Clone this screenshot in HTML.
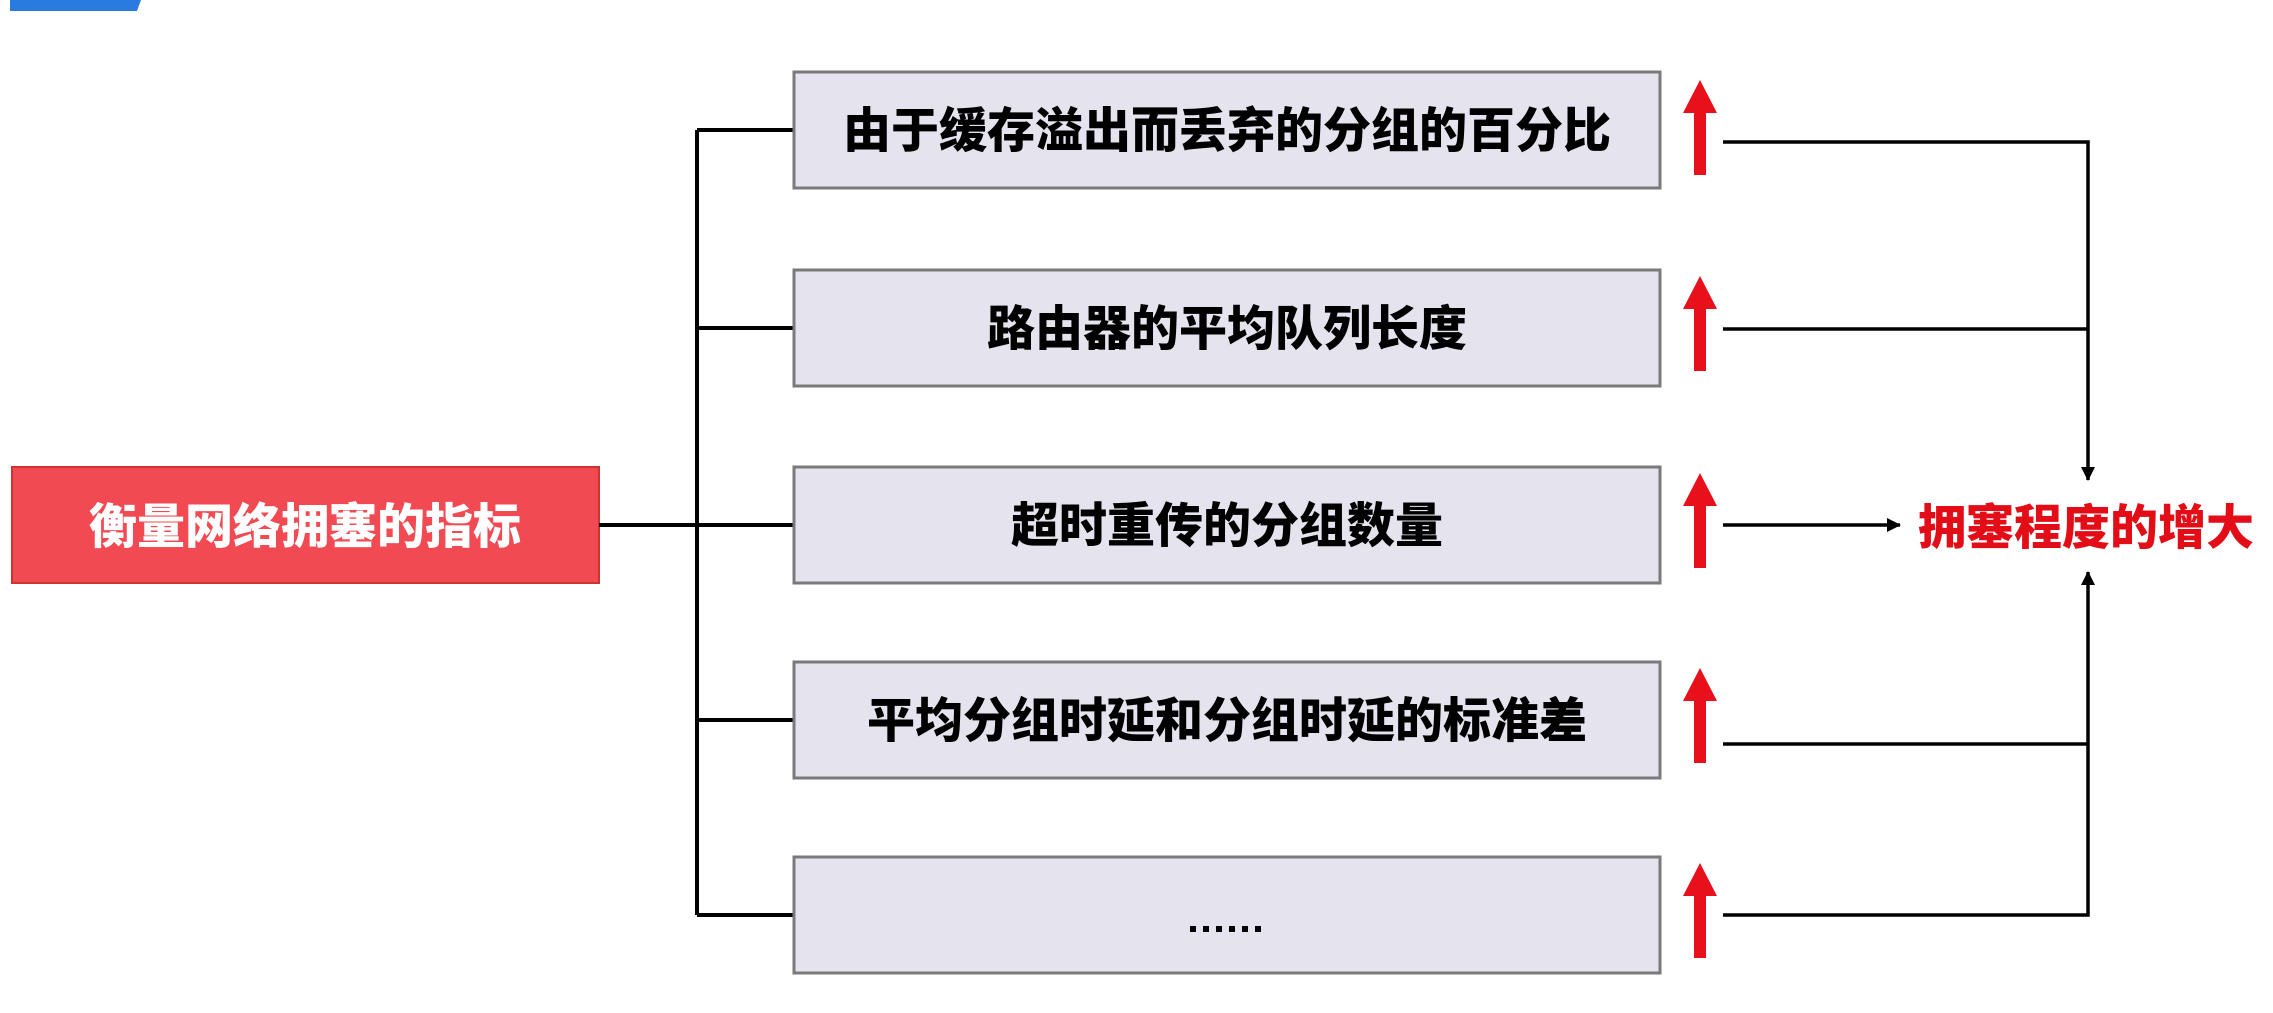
<!DOCTYPE html>
<html><head><meta charset="utf-8"><style>
html,body{margin:0;padding:0;background:#fff;}
svg{display:block;}
text{font-family:"Liberation Sans","Noto Sans CJK SC",sans-serif;font-weight:900;}
</style></head><body>
<svg width="2273" height="1013" viewBox="0 0 2273 1013" xmlns="http://www.w3.org/2000/svg">
<defs>
<marker id="ah" markerWidth="14" markerHeight="14" refX="13" refY="7" orient="auto" markerUnits="userSpaceOnUse">
<path d="M0,0 L14,7 L0,14 Z" fill="#000"/>
</marker>
</defs>
<polygon points="10,0 141,0 137,11 10,11" fill="#2a7be0"/>
<rect x="12" y="467" width="587" height="116" fill="#f24a52" stroke="#c33" stroke-width="2"/>
<text x="305" y="543" font-size="48" fill="#fff" text-anchor="middle">衡量网络拥塞的指标</text>
<g stroke="#000" stroke-width="4" fill="none">
<line x1="599" y1="525" x2="697" y2="525"/>
<line x1="697" y1="130" x2="697" y2="915"/>
<line x1="697" y1="130" x2="794" y2="130"/>
<line x1="697" y1="328" x2="794" y2="328"/>
<line x1="697" y1="525" x2="794" y2="525"/>
<line x1="697" y1="720" x2="794" y2="720"/>
<line x1="697" y1="915" x2="794" y2="915"/>
</g>
<g fill="#e4e3ee" stroke="#7a7a7a" stroke-width="3">
<rect x="794" y="72" width="866" height="116"/>
<rect x="794" y="270" width="866" height="116"/>
<rect x="794" y="467" width="866" height="116"/>
<rect x="794" y="662" width="866" height="116"/>
<rect x="794" y="857" width="866" height="116"/>
</g>
<g font-size="48" fill="#000" text-anchor="middle">
<text x="1227" y="147">由于缓存溢出而丢弃的分组的百分比</text>
<text x="1227" y="345">路由器的平均队列长度</text>
<text x="1227" y="542">超时重传的分组数量</text>
<text x="1227" y="737">平均分组时延和分组时延的标准差</text>
</g>
<g fill="#000"><rect x="1190" y="926" width="6" height="6"/><rect x="1203" y="926" width="6" height="6"/><rect x="1216" y="926" width="6" height="6"/><rect x="1229" y="926" width="6" height="6"/><rect x="1242" y="926" width="6" height="6"/><rect x="1255" y="926" width="6" height="6"/></g>
<g fill="#e8101a">
<path d="M1700,80 L1717,113 L1706,113 L1706,175 L1694,175 L1694,113 L1683,113 Z"/>
<path d="M1700,276 L1717,309 L1706,309 L1706,371 L1694,371 L1694,309 L1683,309 Z"/>
<path d="M1700,473 L1717,506 L1706,506 L1706,568 L1694,568 L1694,506 L1683,506 Z"/>
<path d="M1700,668 L1717,701 L1706,701 L1706,763 L1694,763 L1694,701 L1683,701 Z"/>
<path d="M1700,863 L1717,896 L1706,896 L1706,958 L1694,958 L1694,896 L1683,896 Z"/>
</g>
<g stroke="#000" stroke-width="3.5" fill="none">
<polyline points="1723,142 2088,142 2088,480" marker-end="url(#ah)"/>
<line x1="1723" y1="329" x2="2088" y2="329"/>
<line x1="1723" y1="525" x2="1900" y2="525" marker-end="url(#ah)"/>
<line x1="1723" y1="744" x2="2088" y2="744"/>
<polyline points="1723,915 2088,915 2088,572" marker-end="url(#ah)"/>
</g>
<text x="2086" y="544" font-size="48" fill="#e30d18" text-anchor="middle">拥塞程度的增大</text>
</svg>
</body></html>
